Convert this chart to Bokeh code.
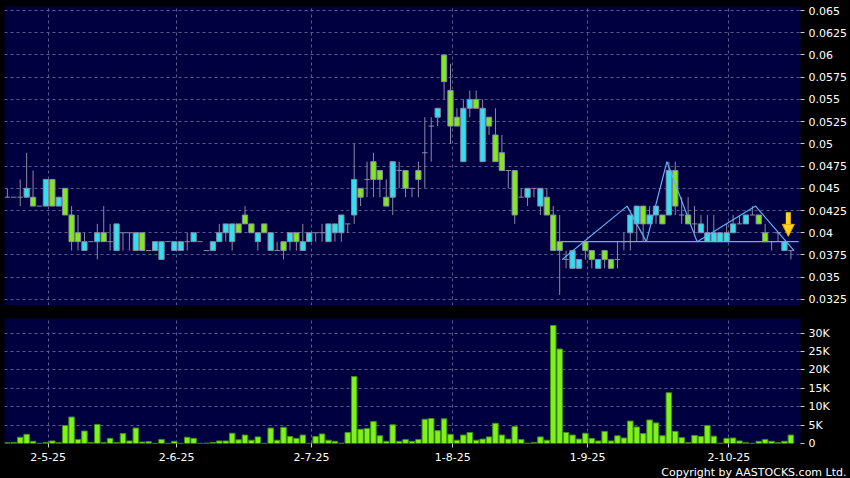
import numpy as np
from bokeh.plotting import figure
from bokeh.models import Range1d, FixedTicker, Title, Arrow, NormalHead
from bokeh.layouts import column
from bokeh.embed import file_html
from bokeh.resources import INLINE

# ---------------- data ----------------
opens = [0.044, 0.044, 0.044, 0.044, 0.044, 0.043, 0.043, 0.046, 0.043, 0.045,
         0.042, 0.040, 0.038, 0.039, 0.039, 0.040, 0.039, 0.038, 0.040, 0.040,
         0.038, 0.040, 0.038, 0.038, 0.037, 0.039, 0.038, 0.038, 0.039, 0.039,
         0.039, 0.038, 0.038, 0.039, 0.040, 0.039, 0.041, 0.042, 0.041, 0.039,
         0.041, 0.038, 0.038, 0.039, 0.039, 0.040, 0.038, 0.039, 0.040, 0.040,
         0.039, 0.040, 0.040, 0.041, 0.042, 0.045, 0.046, 0.048, 0.047, 0.044,
         0.044, 0.047, 0.047, 0.045, 0.047, 0.049, 0.052, 0.053, 0.060, 0.056,
         0.053, 0.048, 0.054, 0.055, 0.048, 0.053, 0.051, 0.049, 0.047, 0.047,
         0.044, 0.044, 0.045, 0.043, 0.044, 0.042, 0.039, 0.037, 0.036, 0.036,
         0.039, 0.038, 0.036, 0.038, 0.037, 0.037, 0.039, 0.040, 0.041, 0.043,
         0.041, 0.042, 0.042, 0.042, 0.047, 0.042, 0.042, 0.041, 0.040, 0.039,
         0.039, 0.039, 0.039, 0.040, 0.041, 0.041, 0.042, 0.042, 0.040, 0.039,
         0.040, 0.038, 0.038]
highs = [0.045, 0.044, 0.046, 0.049, 0.047, 0.043, 0.046, 0.046, 0.044, 0.045,
         0.043, 0.042, 0.040, 0.039, 0.041, 0.043, 0.041, 0.041, 0.040, 0.040,
         0.040, 0.040, 0.038, 0.039, 0.039, 0.039, 0.039, 0.039, 0.040, 0.040,
         0.039, 0.038, 0.039, 0.041, 0.041, 0.041, 0.041, 0.043, 0.041, 0.040,
         0.041, 0.040, 0.039, 0.039, 0.040, 0.040, 0.041, 0.040, 0.040, 0.041,
         0.041, 0.041, 0.042, 0.041, 0.050, 0.045, 0.048, 0.049, 0.047, 0.046,
         0.048, 0.048, 0.047, 0.045, 0.048, 0.053, 0.053, 0.054, 0.060, 0.059,
         0.054, 0.055, 0.056, 0.056, 0.055, 0.053, 0.054, 0.051, 0.047, 0.047,
         0.045, 0.045, 0.045, 0.045, 0.045, 0.043, 0.042, 0.038, 0.038, 0.037,
         0.039, 0.038, 0.037, 0.038, 0.037, 0.039, 0.040, 0.042, 0.043, 0.043,
         0.043, 0.043, 0.042, 0.048, 0.048, 0.044, 0.044, 0.043, 0.042, 0.042,
         0.042, 0.040, 0.041, 0.042, 0.042, 0.042, 0.043, 0.042, 0.041, 0.039,
         0.040, 0.039, 0.038]
lows = [0.044, 0.044, 0.043, 0.044, 0.043, 0.043, 0.043, 0.043, 0.043, 0.042,
        0.038, 0.038, 0.038, 0.039, 0.037, 0.039, 0.038, 0.038, 0.038, 0.038,
        0.038, 0.038, 0.038, 0.038, 0.037, 0.039, 0.038, 0.038, 0.038, 0.039,
        0.039, 0.038, 0.038, 0.039, 0.039, 0.038, 0.040, 0.041, 0.040, 0.038,
        0.040, 0.038, 0.038, 0.037, 0.038, 0.038, 0.038, 0.039, 0.039, 0.039,
        0.039, 0.039, 0.039, 0.040, 0.041, 0.043, 0.044, 0.044, 0.044, 0.043,
        0.042, 0.045, 0.044, 0.044, 0.044, 0.045, 0.048, 0.052, 0.055, 0.050,
        0.052, 0.048, 0.053, 0.054, 0.048, 0.051, 0.048, 0.047, 0.045, 0.041,
        0.044, 0.043, 0.044, 0.042, 0.042, 0.038, 0.033, 0.036, 0.036, 0.036,
        0.037, 0.036, 0.036, 0.036, 0.036, 0.036, 0.038, 0.038, 0.039, 0.039,
        0.041, 0.041, 0.041, 0.042, 0.042, 0.041, 0.041, 0.040, 0.040, 0.039,
        0.039, 0.039, 0.039, 0.040, 0.041, 0.041, 0.042, 0.041, 0.039, 0.038,
        0.039, 0.038, 0.037]
closes = [0.044, 0.044, 0.044, 0.045, 0.043, 0.043, 0.046, 0.043, 0.044, 0.042,
          0.039, 0.039, 0.039, 0.039, 0.040, 0.039, 0.039, 0.041, 0.040, 0.040,
          0.040, 0.038, 0.038, 0.039, 0.039, 0.039, 0.039, 0.039, 0.039, 0.040,
          0.039, 0.038, 0.039, 0.040, 0.041, 0.041, 0.040, 0.041, 0.040, 0.040,
          0.040, 0.040, 0.038, 0.038, 0.040, 0.039, 0.039, 0.040, 0.040, 0.040,
          0.041, 0.041, 0.042, 0.041, 0.046, 0.044, 0.046, 0.046, 0.046, 0.043,
          0.048, 0.047, 0.045, 0.045, 0.046, 0.049, 0.052, 0.054, 0.057, 0.052,
          0.052, 0.054, 0.055, 0.054, 0.054, 0.052, 0.048, 0.047, 0.047, 0.042,
          0.044, 0.045, 0.045, 0.045, 0.042, 0.038, 0.038, 0.037, 0.038, 0.037,
          0.038, 0.037, 0.037, 0.037, 0.036, 0.037, 0.039, 0.042, 0.043, 0.041,
          0.042, 0.043, 0.041, 0.047, 0.043, 0.042, 0.041, 0.041, 0.041, 0.040,
          0.040, 0.040, 0.040, 0.041, 0.041, 0.042, 0.042, 0.041, 0.039, 0.039,
          0.040, 0.039, 0.038]
volumes = [200, 300, 1700, 2500, 600, 50, 300, 700, 200, 4900,
           7200, 1100, 3400, 300, 5200, 300, 1400, 300, 2700, 700,
           4200, 400, 500, 50, 1100, 50, 600, 50, 1700, 1400,
           50, 100, 300, 700, 700, 2800, 1000, 2300, 900, 1800,
           50, 4200, 900, 4400, 1900, 1400, 2300, 50, 1900, 2600,
           900, 600, 100, 3000, 18200, 3900, 4100, 6000, 2100, 600,
           5100, 600, 1100, 600, 1100, 6600, 6800, 3500, 6700, 2500,
           900, 2300, 3000, 900, 1200, 1800, 5500, 2300, 1200, 4600,
           1100, 100, 300, 1800, 900, 32100, 25700, 3000, 2300, 1200,
           2800, 1400, 700, 3300, 700, 2100, 1500, 6100, 4500, 2700,
           6400, 5600, 2100, 13800, 3300, 1600, 300, 2200, 1900, 4900,
           2000, 100, 1400, 1500, 700, 200, 50, 600, 1100, 600,
           200, 600, 2300]

date_labels = ["2-5-25", "2-6-25", "2-7-25", "1-8-25", "1-9-25", "2-10-25"]
date_idx = [6, 26, 47, 69, 90, 112]

price_ticks = [0.0325, 0.035, 0.0375, 0.04, 0.0425, 0.045, 0.0475, 0.05,
               0.0525, 0.055, 0.0575, 0.06, 0.0625, 0.065]
price_tick_labels = ["0.0325", "0.035", "0.0375", "0.04", "0.0425", "0.045", "0.0475", "0.05",
                     "0.0525", "0.055", "0.0575", "0.06", "0.0625", "0.065"]
vol_ticks = [0, 5000, 10000, 15000, 20000, 25000, 30000]
vol_tick_labels = ["0", "5K", "10K", "15K", "20K", "25K", "30K"]

# head-and-shoulders pattern drawn on the chart
pattern_idx = [86.4, 96.5, 99.5, 102.7, 107.4, 116.5, 122.5]
pattern_price = [0.037, 0.043, 0.039, 0.048, 0.039, 0.043, 0.038]
neckline_idx = [86.3, 123.2]
neckline_price = [0.039, 0.039]
signal_idx = 121.6
signal_from = 0.0423
signal_to = 0.0396

# ---------------- styling ----------------
NAVY = "#000040"
CYAN = "#30dff0"
GREEN = "#80e820"
EDGE = "#8a8aa0"
GRID = "#5a5a8e"
FONT = "DejaVu Sans"
PATTERN = "#5fb2f2"

n = len(opens)
idx = np.arange(n)
o = np.array(opens); h = np.array(highs); l = np.array(lows); c = np.array(closes)
up = c > o
dn = c < o
dj = c == o

x_range = Range1d(-0.45, 123.5)
date_pos = [i + 0.35 for i in date_idx]

p1 = figure(width=850, height=305, x_range=x_range, y_range=Range1d(0.03182, 0.06545),
            output_backend="svg", toolbar_location=None, y_axis_location="right",
            background_fill_color=NAVY, border_fill_color="black", outline_line_color=None,
            min_border_left=4, min_border_right=50, min_border_top=6, min_border_bottom=0)

p1.segment(x0=idx, y0=l, x1=idx, y1=h, line_color=EDGE, line_width=1)
p1.segment(x0=idx[dj] - 0.42, y0=o[dj], x1=idx[dj] + 0.42, y1=o[dj], line_color=EDGE, line_width=1)
p1.vbar(x=idx[up], width=0.82, bottom=o[up], top=c[up], fill_color=CYAN, line_color=EDGE, line_width=1)
p1.vbar(x=idx[dn], width=0.82, bottom=c[dn], top=o[dn], fill_color=GREEN, line_color=EDGE, line_width=1)

p1.line(x=neckline_idx, y=neckline_price, line_color=PATTERN, line_width=1.2)
p1.line(x=pattern_idx, y=pattern_price, line_color=PATTERN, line_width=1.2)

p1.add_layout(Arrow(end=NormalHead(size=12, fill_color="#ffd21a", line_color="#e8a800", line_width=1),
                    x_start=signal_idx, y_start=signal_from, x_end=signal_idx, y_end=signal_to,
                    line_color="#ffd21a", line_width=5))

p1.xaxis.visible = False
p1.xgrid.ticker = FixedTicker(ticks=date_pos)
p1.ygrid.ticker = FixedTicker(ticks=price_ticks)
for g in (p1.xgrid, p1.ygrid):
    g.grid_line_color = GRID
    g.grid_line_dash = "3 3"
    g.grid_line_width = 1

ax = p1.yaxis[0]
ax.ticker = FixedTicker(ticks=price_ticks)
ax.major_label_overrides = {t: s for t, s in zip(price_ticks, price_tick_labels)}
ax.axis_line_color = None
ax.major_tick_in = 0
ax.major_tick_out = 4
ax.major_tick_line_color = "#cccccc"
ax.minor_tick_line_color = None
ax.major_label_standoff = 4
ax.major_label_text_color = "white"
ax.major_label_text_font = FONT
ax.major_label_text_font_size = "11px"

# ---------------- volume ----------------
p2 = figure(width=850, height=173, x_range=x_range, y_range=Range1d(0, 34000),
            output_backend="svg", toolbar_location=None, y_axis_location="right",
            background_fill_color=NAVY, border_fill_color="black", outline_line_color=None,
            min_border_left=4, min_border_right=50, min_border_top=13, min_border_bottom=35)
p2.vbar(x=idx, width=0.86, bottom=0, top=volumes, fill_color="#7ff21c", line_color="#3f8f10", line_width=1)

p2.xgrid.ticker = FixedTicker(ticks=date_pos)
p2.ygrid.ticker = FixedTicker(ticks=vol_ticks)
for g in (p2.xgrid, p2.ygrid):
    g.grid_line_color = GRID
    g.grid_line_dash = "3 3"
    g.grid_line_width = 1

vy = p2.yaxis[0]
vy.ticker = FixedTicker(ticks=vol_ticks)
vy.major_label_overrides = {t: s for t, s in zip(vol_ticks, vol_tick_labels)}
vx = p2.xaxis[0]
vx.ticker = FixedTicker(ticks=date_pos)
vx.major_label_overrides = {p: s for p, s in zip(date_pos, date_labels)}
for a in (vy, vx):
    a.axis_line_color = None
    a.major_tick_in = 0
    a.major_tick_out = 4
    a.major_tick_line_color = "#cccccc"
    a.minor_tick_line_color = None
    a.major_label_standoff = 4
    a.major_label_text_color = "white"
    a.major_label_text_font = FONT
    a.major_label_text_font_size = "11px"
vx.major_label_standoff = 5

p2.add_layout(Title(text="Copyright by AASTOCKS.com Ltd.", align="right", text_color="white",
                    text_font=FONT, text_font_size="11px", text_font_style="normal",
                    standoff=0, offset=-46), "below")

layout = column(p1, p2, spacing=0, styles={"background-color": "black"})
open("out.html", "w").write(file_html(layout, INLINE))
